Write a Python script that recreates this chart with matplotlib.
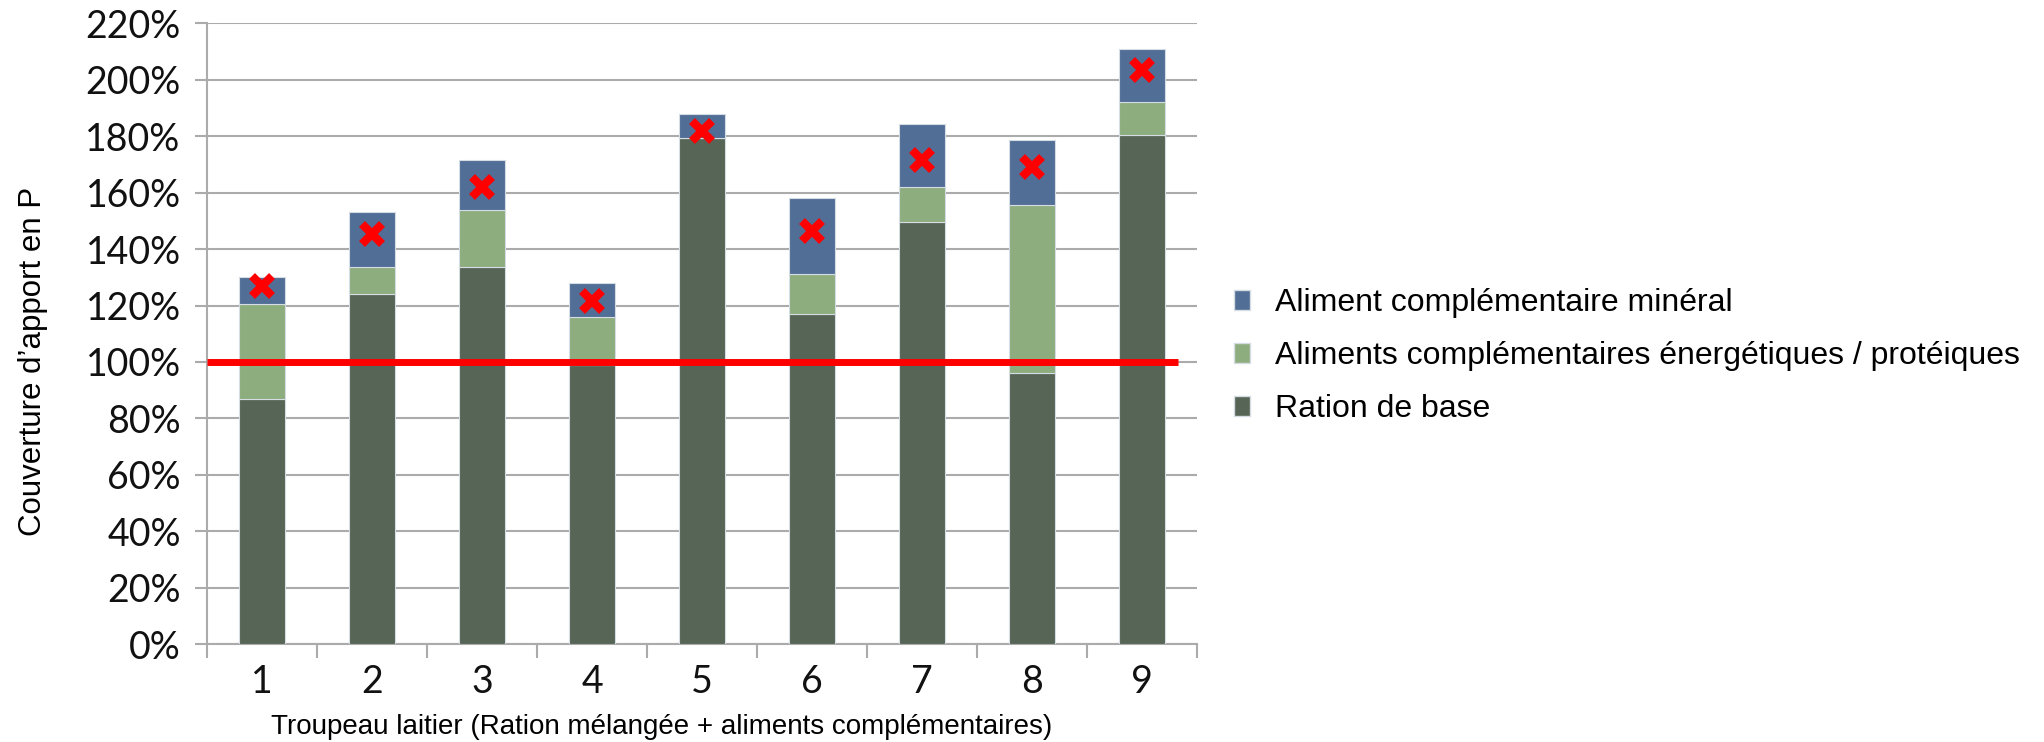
import numpy as np
import matplotlib.pyplot as plt
from matplotlib.patches import Patch
from matplotlib.ticker import FuncFormatter

# Couverture des besoins en phosphore (%) par troupeau
troupeaux = ['1', '2', '3', '4', '5', '6', '7', '8', '9']
ration_base = [87, 124, 133.5, 99, 179.5, 117, 149.5, 96, 180.5]
aliments_energ = [33.5, 9.5, 20.5, 17, 0, 14, 12.5, 59.5, 11.5]
aliment_mineral = [9.5, 19.5, 17.5, 12, 8.5, 27, 22.5, 23, 19]
apport_reel = [127, 145.5, 162, 121.5, 182, 146.5, 171.5, 169, 203.5]
besoin = 100

c_base = '#566555'
c_energ = '#8DAD7E'
c_mineral = '#516E96'
c_grid = '#ABABAB'

fig = plt.figure(figsize=(20.44, 7.42), dpi=100)
ax = fig.add_axes([0.1013, 0.132, 0.4843, 0.8365])

x = np.arange(len(troupeaux))
base = np.array(ration_base)
energ = np.array(aliments_energ)
miner = np.array(aliment_mineral)
w = 0.42
ax.bar(x, base, w, color=c_base, edgecolor='#D5DCE3', linewidth=0.8, zorder=3)
ax.bar(x, energ, w, bottom=base, color=c_energ, edgecolor='#D5DCE3', linewidth=0.8, zorder=3)
ax.bar(x, miner, w, bottom=base + energ, color=c_mineral, edgecolor='#D5DCE3', linewidth=0.8, zorder=3)

ax.plot(x, apport_reel, linestyle='none', marker='x', color='#FF0000',
        markersize=15, markeredgewidth=6, zorder=5)
ax.plot([-0.5, 8.33], [besoin, besoin], color='#FF0000', linewidth=5, zorder=4,
        solid_capstyle='butt')

ax.set_xlim(-0.5, 8.5)
ax.set_ylim(0, 220)
ax.set_yticks(np.arange(0, 221, 20))
ax.yaxis.set_major_formatter(FuncFormatter(lambda v, p: f'{v:.0f}%'))
ax.set_xticks(x)
ax.set_xticklabels(troupeaux)
ax.set_xticks(np.arange(-0.5, 9, 1), minor=True)

ax.grid(axis='y', color=c_grid, linewidth=1.5, zorder=0)
for s in ['top', 'right']:
    ax.spines[s].set_visible(False)
for s in ['left', 'bottom']:
    ax.spines[s].set_color(c_grid)
    ax.spines[s].set_linewidth(1.5)

ax.tick_params(axis='y', direction='out', length=9, width=1.5, color=c_grid,
               pad=10, labelsize=27)
ax.tick_params(axis='x', which='major', length=0, pad=14, labelsize=27)
ax.tick_params(axis='x', which='minor', direction='out', length=10, width=1.5,
               color=c_grid)
for lab in ax.get_xticklabels() + ax.get_yticklabels():
    lab.set_family('Lato')
    lab.set_color('#111111')

ax.set_ylabel('Couverture d’apport en P', fontsize=22.5, family='Liberation Sans')
ax.yaxis.set_label_coords(-0.161, 0.456)
ax.set_xlabel('Troupeau laitier (Ration mélangée + aliments complémentaires)',
              fontsize=20, family='Liberation Sans')
ax.xaxis.set_label_coords(0.459, -0.113)

handles = [Patch(facecolor=c_mineral, edgecolor='#D5DCE3'),
           Patch(facecolor=c_energ, edgecolor='#D5DCE3'),
           Patch(facecolor=c_base, edgecolor='#D5DCE3')]
labels = ['Aliment complémentaire minéral',
          'Aliments complémentaires énergétiques / protéiques',
          'Ration de base']
fig.legend(handles, labels, loc='center left', bbox_to_anchor=(0.5895, 0.52),
           frameon=False, prop={'family': 'Liberation Sans', 'size': 23},
           handlelength=0.5, handleheight=0.6, handletextpad=0.8,
           labelspacing=0.72)

fig.savefig('out.png', dpi=100)
